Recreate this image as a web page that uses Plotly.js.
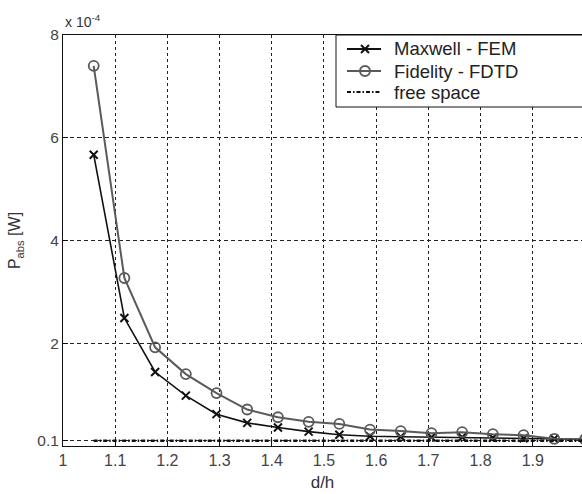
<!DOCTYPE html>
<html>
<head>
<meta charset="utf-8">
<script src="https://cdn.plot.ly/plotly-3.0.1.min.js"></script>
<style>html,body{margin:0;padding:0;background:#fff;}#chart{width:582px;height:494px;}</style>
</head>
<body>
<div id="chart"></div>
<script>
// d/h sample positions
const dh = [1.0588, 1.1176, 1.1765, 1.2353, 1.2941, 1.3529, 1.4118, 1.4706, 1.5294, 1.5882, 1.6471, 1.7059, 1.7647, 1.8235, 1.8824, 1.9412, 2.0];
// absorbed power [W]
const maxwellFEM = [5.67e-4, 2.49e-4, 1.44e-4, 0.98e-4, 0.62e-4, 0.45e-4, 0.36e-4, 0.28e-4, 0.22e-4, 0.19e-4, 0.18e-4, 0.17e-4, 0.17e-4, 0.16e-4, 0.15e-4, 0.14e-4, 0.13e-4];
const fidelityFDTD = [7.40e-4, 3.27e-4, 1.92e-4, 1.40e-4, 1.03e-4, 0.71e-4, 0.56e-4, 0.47e-4, 0.43e-4, 0.32e-4, 0.29e-4, 0.25e-4, 0.27e-4, 0.23e-4, 0.21e-4, 0.14e-4, 0.13e-4];
const freeSpaceX = [1.0588, 2.0];
const freeSpace = [1e-5, 1e-5];
const seriesNames = ['Maxwell - FEM', 'Fidelity - FDTD', 'free space'];
const yTickVals = [1e-5, 2e-4, 4e-4, 6e-4, 8e-4];
const yTickText = ['0.1', '2', '4', '6', '8'];
const xTickVals = [1, 1.1, 1.2, 1.3, 1.4, 1.5, 1.6, 1.7, 1.8, 1.9, 2];
const xTickText = ['1', '1.1', '1.2', '1.3', '1.4', '1.5', '1.6', '1.7', '1.8', '1.9', '2'];

const FONT = 'Liberation Sans, Arial, sans-serif';
const BLACK = '#111111', GRAY = '#5a5a5a';
const FREE_DASH = '4px,2px,1.5px,2px';

const traces = [
  {x: dh, y: maxwellFEM, name: seriesNames[0], type: 'scatter', mode: 'lines+markers',
   line: {color: BLACK, width: 1.6},
   marker: {symbol: 'x-thin-open', size: 8, color: BLACK, line: {color: BLACK, width: 2}}},
  {x: dh, y: fidelityFDTD, name: seriesNames[1], type: 'scatter', mode: 'lines+markers',
   line: {color: GRAY, width: 2},
   marker: {symbol: 'circle-open', size: 10, color: GRAY, line: {color: GRAY, width: 1.8}}},
  {x: freeSpaceX, y: freeSpace, name: seriesNames[2], type: 'scatter', mode: 'lines',
   line: {color: BLACK, width: 2.5, dash: FREE_DASH}}
];

// legend box drawn as layout decoration (paper coordinates)
const L = {l: 63, t: 35, w: 519, h: 411};
const px = v => (v - L.l) / L.w;
const py = v => (L.t + L.h - v) / L.h;
const rowY = [49, 71, 92];
const legendShapes = [
  {type: 'rect', xref: 'paper', yref: 'paper', x0: px(336), x1: 1.05, y0: py(107), y1: 1,
   fillcolor: '#ffffff', line: {color: BLACK, width: 1}, layer: 'above'},
  {type: 'line', xref: 'paper', yref: 'paper', x0: px(347), x1: px(381), y0: py(rowY[0]), y1: py(rowY[0]),
   line: {color: BLACK, width: 2.2}, layer: 'above'},
  {type: 'path', xref: 'paper', yref: 'paper', xsizemode: 'pixel', ysizemode: 'pixel',
   xanchor: px(365), yanchor: py(rowY[0]), path: 'M-4,-4L4,4M-4,4L4,-4',
   line: {color: BLACK, width: 2}, layer: 'above'},
  {type: 'line', xref: 'paper', yref: 'paper', x0: px(347), x1: px(381), y0: py(rowY[1]), y1: py(rowY[1]),
   line: {color: GRAY, width: 2.2}, layer: 'above'},
  {type: 'circle', xref: 'paper', yref: 'paper', xsizemode: 'pixel', ysizemode: 'pixel',
   xanchor: px(365), yanchor: py(rowY[1]), x0: -5, x1: 5, y0: -5, y1: 5,
   line: {color: GRAY, width: 2}, fillcolor: 'rgba(0,0,0,0)', layer: 'above'},
  {type: 'line', xref: 'paper', yref: 'paper', x0: px(347), x1: px(381), y0: py(rowY[2]), y1: py(rowY[2]),
   line: {color: BLACK, width: 2.2, dash: FREE_DASH}, layer: 'above'}
];
const legendTexts = seriesNames.map((n, i) => ({
  xref: 'paper', yref: 'paper', x: px(392), y: py(rowY[i]), xanchor: 'left', yanchor: 'middle',
  text: n, showarrow: false, font: {family: FONT, size: 18.5, color: '#222222'}
}));

const layout = {
  width: 582, height: 494,
  margin: {l: 63, r: 0, t: 35, b: 48, pad: 0},
  paper_bgcolor: '#ffffff', plot_bgcolor: '#ffffff',
  font: {family: FONT, size: 16, color: '#333333'},
  showlegend: false,
  shapes: legendShapes,
  xaxis: {
    range: [1, 1.9943], tickmode: 'array', tickvals: xTickVals, ticktext: xTickText,
    ticks: 'inside', ticklen: 5, tickcolor: BLACK, tickwidth: 1,
    showline: true, linecolor: BLACK, linewidth: 1, mirror: true,
    showgrid: true, gridcolor: '#222222', gridwidth: 1, griddash: '3px,3px',
    zeroline: false, tickfont: {family: FONT, size: 16, color: '#444444'},
    title: {text: 'd/h', font: {family: FONT, size: 17, color: '#333333'}, standoff: 7}
  },
  yaxis: {
    range: [0, 8e-4], tickmode: 'array', tickvals: yTickVals, ticktext: yTickText,
    ticks: 'inside', ticklen: 5, tickcolor: BLACK, tickwidth: 1,
    showline: true, linecolor: BLACK, linewidth: 1, mirror: true,
    showgrid: true, gridcolor: '#222222', gridwidth: 1, griddash: '4px,3px',
    zeroline: false, tickfont: {family: FONT, size: 15.5, color: '#444444'},
    title: {text: 'P<sub>abs</sub> [W]', font: {family: FONT, size: 16, color: '#333333'}, standoff: 12}
  },
  annotations: [
    {xref: 'paper', yref: 'paper', x: 0.0, y: 1.0, xanchor: 'left', yanchor: 'bottom', yshift: 3,
     text: 'x 10<sup>-4</sup>', showarrow: false, font: {family: FONT, size: 14, color: '#333333'}}
  ].concat(legendTexts)
};

Plotly.newPlot('chart', traces, layout, {staticPlot: true, displayModeBar: false});
</script>
</body>
</html>
